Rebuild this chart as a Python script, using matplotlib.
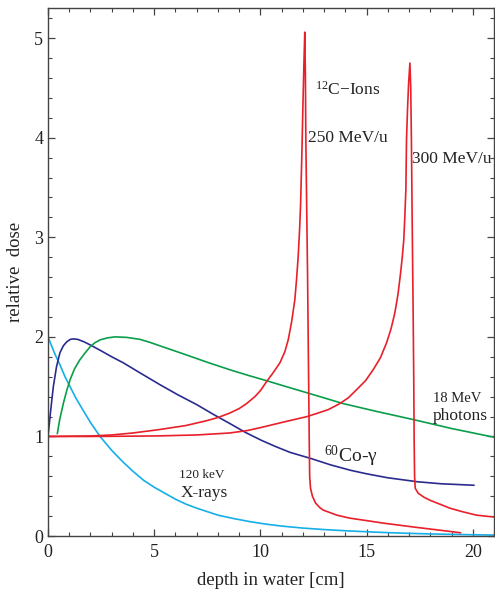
import numpy as np
import matplotlib
matplotlib.use("Agg")
import matplotlib.pyplot as plt
from matplotlib.ticker import MultipleLocator

plt.rcParams['font.family'] = ['Liberation Serif', 'DejaVu Serif']
plt.rcParams['mathtext.fontset'] = 'custom'
plt.rcParams['mathtext.rm'] = 'Liberation Serif'
plt.rcParams['mathtext.it'] = 'Liberation Serif:italic'

# 120 keV X-rays
xray_x = [0, 0.3, 0.56, 0.8, 1.04, 1.3, 1.66, 2.0, 2.45, 3.0, 3.5, 4.0, 4.5, 5.0, 5.5, 6.0, 6.5, 7.0,
          7.5, 8.0, 8.75, 9.5, 10.25, 11, 12, 13, 14, 15, 16, 17, 18, 19, 20, 21]
xray_y = [2.0, 1.84, 1.72, 1.6, 1.5, 1.39, 1.26, 1.14, 1.0, 0.86, 0.75, 0.65, 0.56, 0.49, 0.43, 0.37, 0.32, 0.28,
          0.245, 0.21, 0.175, 0.145, 0.12, 0.10, 0.08, 0.065, 0.053, 0.043, 0.034, 0.027, 0.021, 0.017, 0.013, 0.01]

# 60Co gamma
co_x = [0, 0.12, 0.25, 0.4, 0.56, 0.72, 0.88, 1.05, 1.19, 1.4, 1.7, 1.98, 2.5, 3.0, 3.54, 4.4, 5.27, 6.1,
        7.0, 7.8, 8.56, 9.3, 10.06, 10.7, 11.4, 12.36, 13.3, 14.25, 15.0, 16.0, 17.4, 18.5, 20.05]
co_y = [1.0, 1.25, 1.5, 1.7, 1.84, 1.91, 1.95, 1.975, 1.98, 1.975, 1.95, 1.92, 1.86, 1.8, 1.74, 1.63, 1.52, 1.42,
        1.32, 1.22, 1.13, 1.04, 0.96, 0.90, 0.84, 0.78, 0.715, 0.66, 0.625, 0.585, 0.545, 0.525, 0.51]

# 18 MeV photons
ph_x = [0.44, 0.55, 0.72, 0.88, 1.04, 1.25, 1.5, 1.75, 1.98, 2.2, 2.45, 2.8, 3.15, 3.7, 4.33, 4.8, 5.27,
        6.5, 7.5, 8.56, 9.4, 10.29, 11.3, 12.33, 13.9, 15.5, 17.19, 19, 21.05]
ph_y = [1.03, 1.17, 1.33, 1.46, 1.57, 1.68, 1.77, 1.84, 1.90, 1.94, 1.97, 1.99, 2.0, 1.995, 1.975, 1.945, 1.91,
        1.82, 1.745, 1.67, 1.615, 1.56, 1.495, 1.43, 1.33, 1.25, 1.17, 1.08, 0.99]

# 12C ions 250 MeV/u
c250_x = [0, 2, 3, 4, 5.27, 6.5, 7.5, 8.0, 8.56, 9.0, 9.35, 9.74, 10.0, 10.29, 10.6, 10.92, 11.15, 11.31, 11.47,
          11.62, 11.7, 11.78, 11.84, 11.89, 11.95, 12.0, 12.05, 12.09, 12.12, 12.14, 12.18, 12.22, 12.26,
          12.30, 12.32, 12.36, 12.45, 12.6, 12.8, 12.96, 13.6, 14.2, 15.0, 15.78, 16.5, 17.35, 18.4, 19.42]
c250_y = [1.0, 1.005, 1.015, 1.035, 1.07, 1.11, 1.16, 1.19, 1.235, 1.28, 1.33, 1.40, 1.46, 1.55, 1.64, 1.74, 1.85, 1.97, 2.15,
          2.37, 2.57, 2.81, 3.05, 3.31, 3.81, 4.3, 4.75, 5.06, 4.6, 3.98, 3.3, 2.64, 1.8,
          0.96, 0.6, 0.48, 0.4, 0.33, 0.285, 0.26, 0.21, 0.18, 0.155, 0.13, 0.11, 0.087, 0.06, 0.033]

# 12C ions 300 MeV/u
c300_x = [0, 2, 4, 5.27, 7, 8.56, 9.4, 10.13, 11, 11.7, 12.2, 12.64, 13.2, 13.74, 14.15, 14.53, 14.95, 15.31,
          15.65, 15.94, 16.15, 16.33, 16.48, 16.6, 16.68, 16.75, 16.8, 16.85, 16.88, 16.93, 16.98, 17.04, 17.08,
          17.11, 17.15, 17.19, 17.22, 17.24, 17.26, 17.29, 17.43, 17.7, 17.98, 18.45, 18.92, 19.5, 20.17, 21.04]
c300_y = [1.0, 1.0, 1.003, 1.006, 1.015, 1.035, 1.06, 1.095, 1.14, 1.175, 1.2, 1.23, 1.27, 1.33, 1.39, 1.47, 1.56, 1.67,
          1.79, 1.94, 2.08, 2.24, 2.43, 2.64, 2.8, 2.97, 3.2, 3.48, 3.98, 4.3, 4.55, 4.75, 4.5,
          3.98, 3.1, 2.3, 1.6, 0.96, 0.6, 0.48, 0.43, 0.39, 0.36, 0.32, 0.28, 0.245, 0.21, 0.19]

red = '#e8202a'
green = '#0a9e4a'
navy = '#2b2b8f'
cyan = '#16aee8'

fig = plt.figure(figsize=(4.95, 5.91), dpi=100)
ax = fig.add_axes([0.097, 0.093, 0.901, 0.893])

ax.plot(xray_x, xray_y, color=cyan, lw=1.2)
ax.plot(co_x, co_y, color=navy, lw=1.2)
ax.plot(ph_x, ph_y, color=green, lw=1.2)
ax.plot(c250_x, c250_y, color=red, lw=1.2)
ax.plot(c300_x, c300_y, color=red, lw=1.2)

ax.set_xlim(0, 21)
ax.set_ylim(0, 5.3)
ax.xaxis.set_major_locator(MultipleLocator(5))
ax.xaxis.set_minor_locator(MultipleLocator(1))
ax.yaxis.set_major_locator(MultipleLocator(1))
ax.yaxis.set_minor_locator(MultipleLocator(0.2))
ax.tick_params(which='both', direction='in', top=True, right=True, labelsize=13,
               color='#444444', labelcolor='#222222')
ax.tick_params(axis='x', which='major', pad=6)
ax.tick_params(which='major', length=5, width=0.9)
ax.tick_params(which='minor', length=3, width=0.8)
for s in ax.spines.values():
    s.set_color('#444444')
    s.set_linewidth(1.0)

ax.set_xlabel('depth in water [cm]', fontsize=13.5, color='#222222', labelpad=8)
ax.set_ylabel('relative  dose', fontsize=13.5, color='#222222', labelpad=7)

tc = '#222222'
ax.text(12.56, 4.48, r'$^{12}$C$-$Ions', fontsize=12.5, color=tc, ha='left', va='center')
ax.text(12.25, 4.0, '250 MeV/u', fontsize=12.5, color=tc, ha='left', va='center')
ax.text(17.16, 3.79, '300 MeV/u', fontsize=12.5, color=tc, ha='left', va='center')
ax.text(19.26, 1.38, '18 MeV', fontsize=10.5, color=tc, ha='center', va='center')
ax.text(19.42, 1.21, 'photons', fontsize=12.5, color=tc, ha='center', va='center')
ax.text(12.99, 0.80, r'$^{60}$Co-γ', fontsize=14, color=tc, ha='left', va='center')
ax.text(7.22, 0.61, '120 keV', fontsize=9.5, color=tc, ha='center', va='center')
ax.text(7.35, 0.43, 'X-rays', fontsize=12.5, color=tc, ha='center', va='center')

fig.savefig('out.png', dpi=100)
